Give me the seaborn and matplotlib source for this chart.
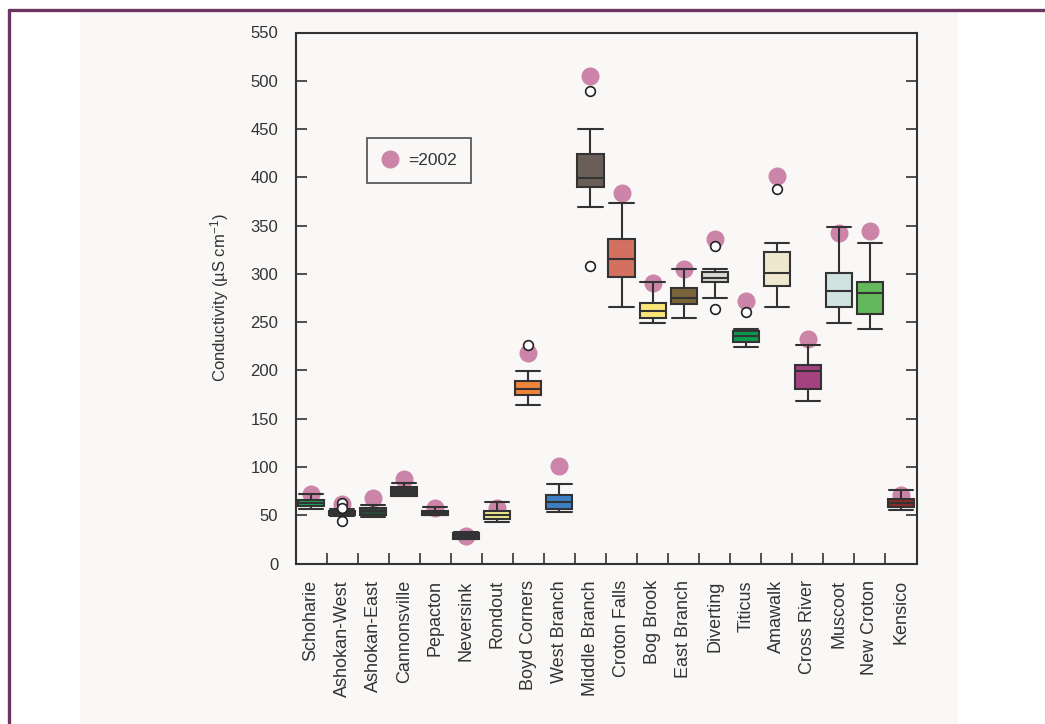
import numpy as np
import pandas as pd
import matplotlib
matplotlib.use("Agg")
import matplotlib.pyplot as plt
from matplotlib.lines import Line2D
from matplotlib.patches import Rectangle
import seaborn as sns

# reservoirs, left to right
sites = ["Schoharie", "Ashokan-West", "Ashokan-East", "Cannonsville", "Pepacton",
         "Neversink", "Rondout", "Boyd Corners", "West Branch", "Middle Branch",
         "Croton Falls", "Bog Brook", "East Branch", "Diverting", "Titicus",
         "Amawalk", "Cross River", "Muscoot", "New Croton", "Kensico"]

# box summaries (uS/cm)
whisker_low = [56, 49.5, 48.5, 69.5, 50, 25, 43.4, 163.8, 53.4, 369,
               266, 249.5, 254.4, 275.4, 224.2, 266, 168.4, 249, 242.4, 55.4]
q1 = [59.5, 50.2, 50, 70, 50.2, 25.4, 46.4, 174.4, 56.4, 390,
      297, 254, 268.8, 291.2, 229.7, 287.7, 180.4, 266, 258, 58.8]
median = [62.5, 52.4, 54, 74, 52.5, 28.4, 50.4, 181, 64, 399.5,
          315.7, 261.8, 275.4, 295.4, 235.4, 300.4, 199.4, 282.2, 279.8, 63]
q3 = [65.5, 54.7, 57, 79.5, 54.7, 31.2, 54.7, 189.4, 71.4, 424,
      336, 269.5, 285, 302, 240.8, 322.3, 205.4, 300.4, 291.2, 66.4]
whisker_high = [71.5, 56, 60.5, 83.5, 58.8, 33, 64, 199.4, 82.4, 450.5,
                373.5, 292, 305, 305.5, 243.4, 332, 226.4, 348.8, 332, 76]

# 2002 values (pink dots)
values_2002 = [72, 62, 67.5, 88, 57.5, 28.5, 57.5, 218.4, 101.4, 505,
               383.5, 291, 305.5, 336, 271.4, 401.4, 233, 342.4, 344.4, 71]

# outliers (open circles)
outlier_sites = ["Ashokan-West", "Ashokan-West", "Ashokan-West", "Boyd Corners",
                 "Middle Branch", "Middle Branch", "Diverting", "Diverting",
                 "Titicus", "Amawalk"]
outlier_values = [63, 57, 44, 226.4, 489.5, 308.5, 328.5, 263.5, 260, 387.4]

box_colors = ["#1aa85a", "#2b2d3a", "#2a4a3a", "#333333", "#5c3a3a",
              "#2e3640", "#ecea8a", "#f0843c", "#3b7fc4", "#6a5e58",
              "#d4705f", "#fae678", "#7a643a", "#d8d8d2", "#0a9a50",
              "#efe8cf", "#a3427f", "#d0e3e1", "#62b85a", "#8a2a2a"]

dot_color = "#cc84a8"
line_color = "#333333"
text_color = "#333333"
panel_bg = "#f9f8f7"

sns.set_theme(style="ticks")
plt.rcParams["font.family"] = ["Liberation Sans", "DejaVu Sans"]
plt.rcParams["mathtext.default"] = "regular"

box_df = pd.DataFrame({
    "site": np.repeat(sites, 5),
    "value": np.column_stack([whisker_low, q1, median, q3, whisker_high]).ravel(),
})

fig = plt.figure(figsize=(10.45, 7.24), dpi=100)
fig.patch.set_facecolor("white")
fig.patches.append(Rectangle((80 / 1045, 0), (958 - 80) / 1045, (724 - 12) / 724,
                             transform=fig.transFigure, facecolor=panel_bg,
                             edgecolor="none", zorder=-10))
fig.lines.append(Line2D([8.5 / 1045, 1.0], [1 - 9.5 / 724, 1 - 9.5 / 724],
                        transform=fig.transFigure, color="#6b3461", lw=2.4))
fig.lines.append(Line2D([8.5 / 1045, 8.5 / 1045], [0, 1 - 9.5 / 724],
                        transform=fig.transFigure, color="#6b3461", lw=2.4))

ax = fig.add_axes([295.5 / 1045, 1 - 563.5 / 724, 621 / 1045, 531 / 724])
ax.set_facecolor(panel_bg)

sns.stripplot(x=sites, y=values_2002, order=sites, jitter=False, color=dot_color,
              size=13, linewidth=0, ax=ax, zorder=1)
sns.boxplot(data=box_df, x="site", y="value", hue="site", order=sites,
            palette=dict(zip(sites, box_colors)), saturation=1, whis=(0, 100),
            width=0.84, linecolor=line_color, linewidth=1.5, legend=False,
            showfliers=False, capwidths=0.78, ax=ax)
sns.stripplot(x=outlier_sites, y=outlier_values, order=sites, jitter=False,
              color="white", edgecolor="#222222", linewidth=1.2, size=7,
              ax=ax, zorder=4)

ax.set_xlim(-0.5, len(sites) - 0.5)
ax.set_ylim(0, 550)
ax.set_yticks(range(0, 551, 50))
ax.set_xticks(range(len(sites)))
ax.set_xticklabels(sites, rotation=90, fontsize=13, color=text_color)
ax.set_xticks(np.arange(0.5, len(sites) - 0.5, 1), minor=True)
ax.tick_params(axis="x", which="major", length=0, pad=12)
ax.tick_params(axis="x", which="minor", direction="in", length=8, width=1.2,
               color=line_color, bottom=True)
ax.tick_params(axis="y", direction="in", length=8, width=1.2, color=line_color,
               right=True, labelsize=12, labelcolor=text_color, pad=12.5)
ax.set_xlabel("")
ax.set_ylabel("Conductivity (µS cm$^{-1}$)", fontsize=12, color=text_color,
              labelpad=14)
for sp in ax.spines.values():
    sp.set_visible(True)
    sp.set_color(line_color)
    sp.set_linewidth(1.5)

handle = Line2D([], [], marker="o", linestyle="none", markersize=13,
                markerfacecolor=dot_color, markeredgewidth=0)
leg = ax.legend([handle], ["=2002"], loc="upper left",
                bbox_to_anchor=(0.115, 0.801), fontsize=12.5, frameon=True,
                fancybox=False, handlelength=1.0, handletextpad=0.5,
                borderpad=0.85, borderaxespad=0)
for t in leg.get_texts():
    t.set_color(text_color)
leg.get_frame().set_edgecolor(line_color)
leg.get_frame().set_linewidth(1.3)
leg.get_frame().set_facecolor(panel_bg)

fig.savefig("out.png", dpi=100, facecolor="white")
